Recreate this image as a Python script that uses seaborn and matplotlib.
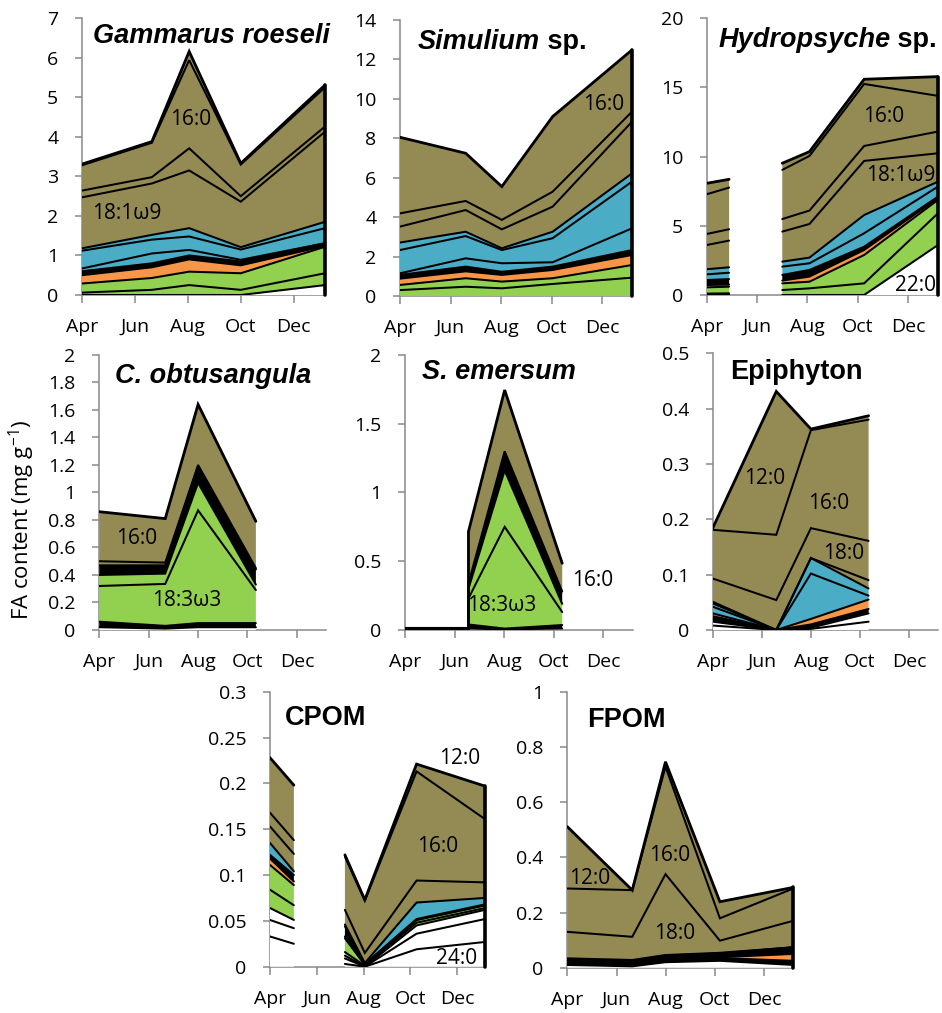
import numpy as np
import matplotlib
matplotlib.use("Agg")
import matplotlib.pyplot as plt
import seaborn as sns

NAN = np.nan

# ---------------- shared axis categories ----------------
MONTH_TICKS = [0, 2, 4, 6, 8]
MONTH_LABELS = ["Apr", "Jun", "Aug", "Oct", "Dec"]
XMAX = 9.18

# Layer groups: LC = long-chain SAFA, N3 = C18 omega-3, N6 = omega-6,
# MINOR = minor FA, HUFA = long-chain PUFA, SM = SAFA/MUFA

# ---------------- Gammarus roeseli ----------------
GAM_DATES = [0, 2.64, 4.05, 6.0, 9.18]
GAM_LAYERS = [
    ("LC",    [0.00, 0.00, 0.00, 0.00, 0.25]),
    ("N3",    [0.06, 0.13, 0.25, 0.13, 0.30]),
    ("N3",    [0.23, 0.30, 0.34, 0.42, 0.67]),
    ("N6",    [0.21, 0.27, 0.31, 0.20, 0.02]),
    ("MINOR", [0.10, 0.10, 0.10, 0.10, 0.07]),
    ("HUFA",  [0.07, 0.25, 0.14, 0.04, 0.00]),
    ("HUFA",  [0.45, 0.35, 0.34, 0.26, 0.38]),
    ("HUFA",  [0.06, 0.12, 0.21, 0.06, 0.16]),
    ("SM",    [1.29, 1.30, 1.46, 1.15, 2.28]),   # 18:1w9
    ("SM",    [0.17, 0.16, 0.56, 0.14, 0.13]),
    ("SM",    [0.64, 0.87, 2.23, 0.80, 0.99]),   # 16:0
    ("SM",    [0.03, 0.03, 0.22, 0.03, 0.06]),
]
GAM_YTICKS = [0, 1, 2, 3, 4, 5, 6, 7]
GAM_YLABELS = ["0", "1", "2", "3", "4", "5", "6", "7"]

# ---------------- Simulium sp. ----------------
SIM_DATES = [0, 2.6, 4.03, 6.04, 9.18]
SIM_LAYERS = [
    ("N3",    [0.30, 0.47, 0.39, 0.61, 0.93]),
    ("N3",    [0.26, 0.43, 0.34, 0.29, 0.64]),
    ("N6",    [0.32, 0.35, 0.34, 0.42, 0.51]),
    ("MINOR", [0.19, 0.24, 0.16, 0.17, 0.25]),
    ("HUFA",  [0.08, 0.42, 0.43, 0.22, 1.10]),
    ("HUFA",  [1.18, 1.13, 0.67, 1.22, 2.37]),
    ("HUFA",  [0.38, 0.22, 0.09, 0.33, 0.42]),
    ("SM",    [0.81, 1.10, 0.96, 1.27, 2.62]),
    ("SM",    [0.67, 0.46, 0.48, 0.76, 0.51]),
    ("SM",    [3.86, 2.42, 1.69, 3.81, 3.13]),   # 16:0
]
SIM_YTICKS = [0, 2, 4, 6, 8, 10, 12, 14]
SIM_YLABELS = ["0", "2", "4", "6", "8", "10", "12", "14"]

# ---------------- Hydropsyche sp. (no June sample) ----------------
HYD_DATES = [0, 0.89, NAN, 3.0, 4.08, 6.25, 9.18]
HYD_LAYERS = [
    ("LC",    [0.00, 0.00, NAN, 0.00, 0.00, 0.00, 3.61]),   # 22:0
    ("N3",    [0.10, 0.12, NAN, 0.36, 0.48, 0.84, 2.29]),
    ("N3",    [0.45, 0.48, NAN, 0.48, 0.48, 2.05, 0.97]),
    ("N6",    [0.17, 0.15, NAN, 0.20, 0.37, 0.36, 0.13]),
    ("MINOR", [0.36, 0.40, NAN, 0.41, 0.48, 0.24, 0.11]),
    ("HUFA",  [0.41, 0.46, NAN, 0.60, 0.48, 0.97, 0.72]),
    ("HUFA",  [0.37, 0.39, NAN, 0.36, 0.41, 1.32, 0.36]),
    ("SM",    [1.75, 1.93, NAN, 2.17, 2.43, 3.91, 2.05]),   # 18:1w9
    ("SM",    [0.80, 0.82, NAN, 0.91, 0.97, 1.08, 1.57]),
    ("SM",    [2.87, 3.01, NAN, 3.55, 3.95, 4.48, 2.58]),   # 16:0
    ("SM",    [0.79, 0.60, NAN, 0.48, 0.31, 0.34, 1.39]),
]
HYD_YTICKS = [0, 5, 10, 15, 20]
HYD_YLABELS = ["0", "5", "10", "15", "20"]

# ---------------- C. obtusangula ----------------
COB_DATES = [0, 2.67, 4.0, 6.34]
COB_LAYERS = [
    ("LC",    [0.02, 0.01, 0.02, 0.02]),
    ("MINOR", [0.04, 0.02, 0.03, 0.03]),
    ("N3",    [0.26, 0.305, 0.82, 0.24]),   # 18:3w3
    ("N3",    [0.08, 0.075, 0.20, 0.04]),
    ("MINOR", [0.07, 0.06, 0.12, 0.11]),
    ("SM",    [0.03, 0.02, 0.01, 0.01]),
    ("SM",    [0.36, 0.32, 0.44, 0.34]),    # 16:0
]
COB_YTICKS = [0, 0.2, 0.4, 0.6, 0.8, 1.0, 1.2, 1.4, 1.6, 1.8, 2.0]
COB_YLABELS = ["0", "0.2", "0.4", "0.6", "0.8", "1", "1.2", "1.4", "1.6", "1.8", "2"]

# ---------------- S. emersum ----------------
SEM_DATES = [0, 2.56, 2.56, 4.02, 6.34]
SEM_LAYERS = [
    ("LC",    [0.002, 0.002, 0.010, 0.005, 0.010]),
    ("MINOR", [0.002, 0.002, 0.030, 0.005, 0.026]),
    ("N3",    [0.002, 0.002, 0.190, 0.740, 0.094]),   # 18:3w3
    ("N3",    [0.002, 0.002, 0.070, 0.410, 0.060]),
    ("MINOR", [0.002, 0.002, 0.040, 0.140, 0.090]),
    ("SM",    [0.002, 0.002, 0.375, 0.445, 0.205]),   # 16:0
]
SEM_YTICKS = [0, 0.5, 1.0, 1.5, 2.0]
SEM_YLABELS = ["0", "0.5", "1", "1.5", "2"]

# ---------------- Epiphyton ----------------
EPI_DATES = [0, 2.59, 4.0, 6.35]
EPI_LAYERS = [
    ("LC",    [0.008, 0.000, 0.002, 0.015]),
    ("LC",    [0.007, 0.000, 0.002, 0.015]),
    ("MINOR", [0.010, 0.000, 0.006, 0.008]),
    ("N6",    [0.005, 0.000, 0.010, 0.017]),
    ("HUFA",  [0.012, 0.000, 0.082, 0.007]),
    ("HUFA",  [0.006, 0.000, 0.028, 0.013]),
    ("SM",    [0.003, 0.000, 0.000, 0.015]),
    ("SM",    [0.042, 0.054, 0.054, 0.071]),   # 18:0
    ("SM",    [0.088, 0.118, 0.177, 0.219]),   # 16:0
    ("SM",    [0.003, 0.259, 0.002, 0.007]),   # 12:0
]
EPI_YTICKS = [0, 0.1, 0.2, 0.3, 0.4, 0.5]
EPI_YLABELS = ["0", "0.1", "0.2", "0.3", "0.4", "0.5"]

# ---------------- CPOM (no June sample) ----------------
CPO_DATES = [0, 1.02, NAN, 3.2, 4.05, 6.26, 9.18]
CPO_LAYERS = [
    ("LC",    [0.033, 0.025, NAN, 0.003, 0.000, 0.019, 0.027]),   # 24:0
    ("LC",    [0.018, 0.017, NAN, 0.006, 0.000, 0.017, 0.025]),
    ("LC",    [0.013, 0.009, NAN, 0.003, 0.000, 0.009, 0.010]),
    ("N3",    [0.020, 0.016, NAN, 0.004, 0.001, 0.003, 0.002]),
    ("N3",    [0.027, 0.022, NAN, 0.015, 0.001, 0.003, 0.003]),
    ("N6",    [0.007, 0.004, NAN, 0.002, 0.000, 0.000, 0.000]),
    ("MINOR", [0.004, 0.007, NAN, 0.011, 0.001, 0.001, 0.001]),
    ("HUFA",  [0.013, 0.004, NAN, 0.002, 0.001, 0.018, 0.007]),
    ("SM",    [0.018, 0.019, NAN, 0.016, 0.011, 0.024, 0.017]),
    ("SM",    [0.015, 0.015, NAN, 0.058, 0.057, 0.119, 0.069]),   # 16:0
    ("SM",    [0.060, 0.060, NAN, 0.002, 0.001, 0.008, 0.036]),   # 12:0
]
CPO_YTICKS = [0, 0.05, 0.1, 0.15, 0.2, 0.25, 0.3]
CPO_YLABELS = ["0", "0.05", "0.1", "0.15", "0.2", "0.25", "0.3"]

# ---------------- FPOM ----------------
FPO_DATES = [0, 2.64, 3.99, 6.2, 9.18]
FPO_LAYERS = [
    ("LC",    [0.010, 0.005, 0.020, 0.025, 0.010]),
    ("MINOR", [0.006, 0.007, 0.008, 0.010, 0.015]),
    ("N6",    [0.002, 0.001, 0.002, 0.003, 0.025]),
    ("MINOR", [0.007, 0.007, 0.010, 0.010, 0.024]),
    ("HUFA",  [0.005, 0.005, 0.004, 0.004, 0.000]),
    ("SM",    [0.004, 0.003, 0.002, 0.002, 0.000]),
    ("SM",    [0.096, 0.084, 0.293, 0.044, 0.096]),   # 18:0
    ("SM",    [0.157, 0.169, 0.389, 0.081, 0.117]),   # 16:0
    ("SM",    [0.224, 0.000, 0.018, 0.060, 0.004]),   # 12:0
]
FPO_YTICKS = [0, 0.2, 0.4, 0.6, 0.8, 1.0]
FPO_YLABELS = ["0", "0.2", "0.4", "0.6", "0.8", "1"]

# ---------------- styling ----------------
COLORS = {
    "LC": "#FFFFFF",
    "N3": "#92D050",
    "N6": "#F79646",
    "MINOR": "#000000",
    "HUFA": "#4BACC6",
    "SM": "#948A54",
}
GREY = "#898989"

PANELS = [
    dict(rect=[0.0870, 0.7088, 0.2580, 0.2732], dates=GAM_DATES, layers=GAM_LAYERS,
         ymax=7, yticks=GAM_YTICKS, ylabels=GAM_YLABELS,
         title=[("Gammarus roeseli", "italic")], tpos=(0.045, 0.912),
         notes=[("16:0", 4.09, 4.43), ("18:1ω9", 1.7, 2.07)]),
    dict(rect=[0.4246, 0.7078, 0.2463, 0.2725], dates=SIM_DATES, layers=SIM_LAYERS,
         ymax=14, yticks=SIM_YTICKS, ylabels=SIM_YLABELS,
         title=[("Simulium", "italic"), (" sp.", "normal")], tpos=(0.078, 0.894),
         notes=[("16:0", 8.07, 9.69)]),
    dict(rect=[0.7502, 0.7088, 0.2455, 0.2732], dates=HYD_DATES, layers=HYD_LAYERS,
         ymax=20, yticks=HYD_YTICKS, ylabels=HYD_YLABELS,
         title=[("Hydropsyche", "italic"), (" sp.", "normal")], tpos=(0.049, 0.897),
         notes=[("16:0", 7.04, 12.9), ("18:1ω9", 7.7, 8.67), ("22:0", 8.29, 0.72)]),
    dict(rect=[0.1054, 0.3781, 0.2407, 0.2715], dates=COB_DATES, layers=COB_LAYERS,
         ymax=2, yticks=COB_YTICKS, ylabels=COB_YLABELS,
         title=[("C. obtusangula", "italic")], tpos=(0.069, 0.897),
         notes=[("16:0", 1.5, 0.667), ("18:3ω3", 3.52, 0.218)]),
    dict(rect=[0.4299, 0.3781, 0.2417, 0.2715], dates=SEM_DATES, layers=SEM_LAYERS,
         ymax=2, yticks=SEM_YTICKS, ylabels=SEM_YLABELS,
         title=[("S. emersum", "italic")], tpos=(0.075, 0.912),
         notes=[("18:3ω3", 3.91, 0.18), ("16:0", 7.56, 0.36)]),
    dict(rect=[0.7566, 0.3781, 0.2392, 0.2732], dates=EPI_DATES, layers=EPI_LAYERS,
         ymax=0.5, yticks=EPI_YTICKS, ylabels=EPI_YLABELS,
         title=[("Epiphyton", "normal")], tpos=(0.077, 0.906),
         notes=[("12:0", 2.12, 0.274), ("16:0", 4.74, 0.229), ("18:0", 5.35, 0.139)]),
    dict(rect=[0.2866, 0.0457, 0.2282, 0.2715], dates=CPO_DATES, layers=CPO_LAYERS,
         ymax=0.3, yticks=CPO_YTICKS, ylabels=CPO_YLABELS,
         title=[("CPOM", "normal")], tpos=(0.07, 0.879),
         notes=[("12:0", 8.1, 0.227), ("16:0", 7.18, 0.131), ("24:0", 7.97, 0.009)]),
    dict(rect=[0.6022, 0.0447, 0.2399, 0.2725], dates=FPO_DATES, layers=FPO_LAYERS,
         ymax=1, yticks=FPO_YTICKS, ylabels=FPO_YLABELS,
         title=[("FPOM", "normal")], tpos=(0.087, 0.871),
         notes=[("12:0", 0.92, 0.324), ("16:0", 4.17, 0.408), ("18:0", 4.37, 0.124)]),
]

sns.set_theme(style="white")
plt.rcParams["font.family"] = ["Open Sans", "DejaVu Sans"]
plt.rcParams["mathtext.fontset"] = "custom"
plt.rcParams["mathtext.rm"] = "Open Sans"
plt.rcParams["mathtext.it"] = "Open Sans:italic"
plt.rcParams["mathtext.bf"] = "Open Sans:bold"

TITLE_FONT = ["Liberation Sans", "DejaVu Sans"]


def draw_stack(ax, dates, layers):
    x = np.asarray(dates, dtype=float)
    base = np.where(np.isnan(x), np.nan, 0.0)
    n = len(layers)
    for i, (group, vals) in enumerate(layers):
        top = base + np.asarray(vals, dtype=float)
        ax.fill_between(x, base, top, facecolor=COLORS[group], edgecolor="none",
                        linewidth=0, zorder=2)
        lw = 2.0 if i == n - 1 else 1.45
        ax.plot(x, top, color="black", lw=lw, zorder=3, solid_joinstyle="miter")
        base = top
    if x[-1] >= XMAX - 0.01:
        ax.plot([x[-1], x[-1]], [0, base[-1]], color="black", lw=2.6,
                zorder=4, clip_on=False)


def draw_title(ax, parts, pos):
    prev = None
    for text, style in parts:
        kw = dict(fontsize=19.5, fontweight="bold", style=style, family=TITLE_FONT,
                  color="black", zorder=6)
        if prev is None:
            prev = ax.text(pos[0], pos[1], text, transform=ax.transAxes,
                           ha="left", va="baseline", **kw)
        else:
            prev = ax.annotate(text, xy=(1, 0), xycoords=prev,
                               ha="left", va="bottom", **kw)


fig = plt.figure(figsize=(9.42, 10.13), dpi=100)

for spec in PANELS:
    ax = fig.add_axes(spec["rect"])
    draw_stack(ax, spec["dates"], spec["layers"])
    ax.set_xlim(0, XMAX)
    ax.set_ylim(0, spec["ymax"])
    ax.set_xticks(MONTH_TICKS, MONTH_LABELS)
    ax.set_yticks(spec["yticks"], spec["ylabels"])
    ax.grid(False)
    sns.despine(ax=ax)
    for side in ("left", "bottom"):
        ax.spines[side].set_color(GREY)
        ax.spines[side].set_linewidth(1.1)
        ax.spines[side].set_zorder(1)
    ax.tick_params(axis="x", bottom=True, length=5.5, width=1.1, color=GREY,
                   pad=11, labelsize=14, labelcolor="black")
    ax.tick_params(axis="y", left=True, length=5, width=1.1, color=GREY,
                   pad=12, labelsize=14, labelcolor="black")
    draw_title(ax, spec["title"], spec["tpos"])
    for txt, nx, ny in spec["notes"]:
        ax.text(nx, ny, txt, ha="center", va="center", fontsize=15,
                color="black", zorder=6, clip_on=False)

fig.text(22 / 942, 1 - 520 / 1013, "FA content (mg g$^{-1}$)", rotation=90,
         ha="center", va="center", fontsize=16, color="black")

fig.savefig("out.png", dpi=100)
